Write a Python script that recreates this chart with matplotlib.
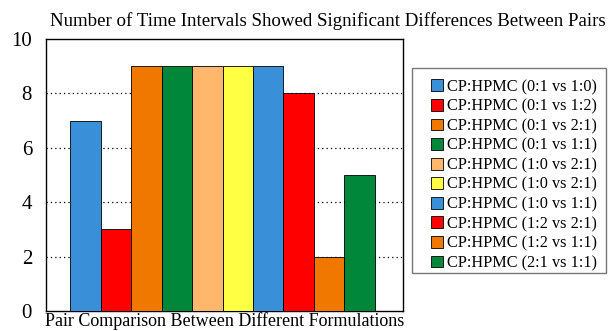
import matplotlib.pyplot as plt
from matplotlib.patches import Rectangle
import numpy as np

plt.rcParams['font.family'] = 'Liberation Serif'

pairs = ["CP:HPMC (0:1 vs 1:0)", "CP:HPMC (0:1 vs 1:2)", "CP:HPMC (0:1 vs 2:1)",
         "CP:HPMC (0:1 vs 1:1)", "CP:HPMC (1:0 vs 2:1)", "CP:HPMC (1:0 vs 2:1)",
         "CP:HPMC (1:0 vs 1:1)", "CP:HPMC (1:2 vs 2:1)", "CP:HPMC (1:2 vs 1:1)",
         "CP:HPMC (2:1 vs 1:1)"]
counts = [7, 3, 9, 9, 9, 9, 9, 8, 2, 5]
colors = ["#3a8fd9", "#ff0000", "#f07800", "#00873a", "#ffb86b",
          "#ffff44", "#3a8fd9", "#ff0000", "#f07800", "#00873a"]

W, H = 612, 331
fig = plt.figure(figsize=(W / 100, H / 100), dpi=100)
ax = fig.add_axes([46 / W, 20 / H, 357 / W, 272 / H])

x = np.arange(len(counts))
for i in range(len(counts)):
    ax.bar(x[i], counts[i], width=1.0, color=colors[i], edgecolor="black",
           linewidth=0.6, label=pairs[i], zorder=3)

ax.set_xlim(-1.29, 10.42)
ax.set_ylim(0, 10)
ax.set_yticks([0, 2, 4, 6, 8, 10])
ax.set_xticks([])
ax.tick_params(axis="y", length=0, labelsize=15, pad=10)
for y in [2, 4, 6, 8]:
    ax.axhline(y, color="black", linestyle=(0, (1, 2.5)), linewidth=0.9, zorder=1)
for s in ax.spines.values():
    s.set_linewidth(1.0)

ax.set_title("Number of Time Intervals Showed Significant Differences Between Pairs",
             fontsize=13.6, pad=9, x=0.012, ha="left")
ax.set_xlabel("Pair Comparison Between Different Formulations", fontsize=13, labelpad=1)

# legend frame drawn separately (more room above the first entry than below the last)
fig.patches.append(Rectangle((412 / W, (H - 272.7) / H), 194 / W, 205.2 / H,
                             transform=fig.transFigure, facecolor="none",
                             edgecolor="#777777", linewidth=1.0))
leg = ax.legend(loc="upper left", bbox_to_anchor=(431 / W, (H - 79) / H),
                bbox_transform=fig.transFigure, fontsize=11.7, frameon=False,
                handlelength=0.74, handleheight=0.74, handletextpad=0.25,
                labelspacing=0.22, borderpad=0, borderaxespad=0)

fig.savefig("out.png", dpi=100)
